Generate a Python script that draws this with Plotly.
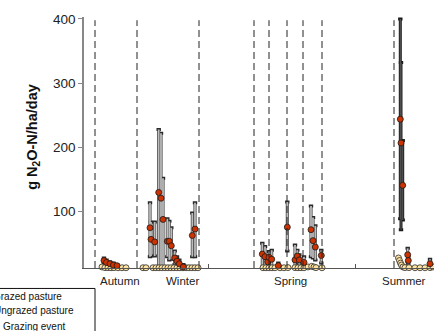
import plotly.graph_objects as go

# x positions are days from the start of the plotted period
grazed_day = [20, 22.5, 26, 29.5, 33,
              66, 67, 70.7, 74.7, 77, 79, 83.3, 85.3, 87.3, 90.7, 93, 95.3, 99.3, 108.3, 111,
              178.3, 181, 183.7, 185, 187.7, 194.3, 203.3, 211, 213.3, 215.3, 220, 227, 229, 231.3, 237.3,
              316.3, 317, 318.7, 323.7, 324.3, 346]
grazed_val = [24, 21, 19, 17, 16,
              75, 57, 53, 130, 121, 88, 54, 54, 47, 28, 23, 19, 14, 63, 73,
              34, 30, 22, 29, 26, 16, 76, 25, 31, 25, 21, 72, 55, 45, 32,
              244, 207, 141, 33, 24, 19]
grazed_hi = [28, 25, 22, 20, 18,
             114, 84, 84, 228, 222, 152, 89, 85, 75, 39, 30, 25, 18, 98, 114,
             51, 46, 30, 38, 40, 20, 115, 48, 40, 33, 30, 109, 91, 78, 40,
             400, 332, 211, 43, 30, 26]
grazed_lo = [20, 17, 16, 14, 14,
             30, 31, 31, 14, 14, 14, 30, 25, 26, 18, 16, 14, 13, 30, 30,
             13, 14, 15, 20, 15, 13, 39, 14, 20, 17, 14, 30, 28, 25, 20,
             89, 72, 87, 22, 18, 14]

ungrazed_day = [18, 21, 24, 27, 30, 34, 38, 42,
                59, 62, 69, 72, 75, 78, 81, 84, 87, 90, 93, 96, 99, 102, 105, 108, 111, 114,
                179, 182, 185, 188, 191, 196, 200, 204, 211, 214, 217, 220, 224, 227.7, 230, 232, 238,
                314.5, 315.5, 316.5, 317.5, 319, 321, 325, 331, 336, 341, 346, 349]
ungrazed_val = [14, 13, 13, 12.8, 13, 12.8, 12.8, 12.8,
                12.8, 12.8, 12.8, 12.8, 12.8, 12.8, 12.8, 12.8, 12.8, 12.8, 12.8, 12.8, 12.8, 12.8, 12.8, 12.8, 12.8, 12.8,
                12.8, 12.8, 12.8, 12.8, 12.8, 12.8, 12.8, 13, 13, 12.8, 12.8, 12.8, 14, 15, 14, 13, 12.8,
                28, 24, 20, 17, 14, 13, 13, 12.8, 12.8, 12.8, 13, 14]

grazing_event_day = [11, 53, 115, 170, 185, 203, 219, 238, 310]
minor_tick_day = [124, 271]

season_labels = ["Autumn", "Winter", "Spring", "Summer"]
season_label_day = [36, 98, 206, 320]

y_ticks = [100, 200, 300, 400]
Y_MIN, Y_MAX = 12.4, 403

fig = go.Figure()

dark = [i for i, d in enumerate(grazed_day) if grazed_val[i] > 130 and d > 300]
light = [i for i in range(len(grazed_day)) if i not in dark]

def add_err(idx, outer, inner, t_out, t_in):
    xs = [grazed_day[i] for i in idx]
    ys = [grazed_val[i] for i in idx]
    up = [grazed_hi[i] - grazed_val[i] for i in idx]
    dn = [grazed_val[i] - grazed_lo[i] for i in idx]
    fig.add_trace(go.Scatter(x=xs, y=ys, mode="markers", marker=dict(opacity=0, size=2),
                             error_y=dict(type="data", symmetric=False, array=up, arrayminus=dn,
                                          color=outer, thickness=t_out, width=2.2),
                             showlegend=False, hoverinfo="skip", cliponaxis=False))
    fig.add_trace(go.Scatter(x=xs, y=ys, mode="markers", marker=dict(opacity=0, size=2),
                             error_y=dict(type="data", symmetric=False, array=up, arrayminus=dn,
                                          color=inner, thickness=t_in, width=0),
                             showlegend=False, hoverinfo="skip", cliponaxis=False))

add_err(light, "#2a2a2a", "#bdbdbd", 3, 1.8)
add_err(dark, "#1a1a1a", "#505050", 3, 1.3)

fig.add_trace(go.Scatter(x=ungrazed_day, y=ungrazed_val, mode="markers", name="Ungrazed pasture",
                         marker=dict(color="#FFE3A3", size=6, line=dict(color="#2a2a2a", width=0.8)),
                         showlegend=False, cliponaxis=False))
fig.add_trace(go.Scatter(x=grazed_day, y=grazed_val, mode="markers", name="Grazed pasture",
                         marker=dict(color="#CC3300", size=6, line=dict(color="#1a1a1a", width=0.8)),
                         showlegend=False, cliponaxis=False))

for d in grazing_event_day:
    fig.add_shape(type="line", x0=d, x1=d, y0=Y_MIN, y1=398, xref="x", yref="y",
                  line=dict(color="#222222", width=1, dash="7px,4px"))

for lab, d in zip(season_labels, season_label_day):
    fig.add_annotation(x=d, y=-0.05, xref="x", yref="paper", text=lab, showarrow=False,
                       font=dict(family="Arial, Liberation Sans", size=11.5, color="#222222"),
                       yanchor="middle")

# legend (partly outside the picture, as in the reference)
W, H = 350.0, 251.5
def px(xp):
    return (xp - 84) / W
def py(yp):
    return (268.5 - yp) / H

fig.add_shape(type="rect", xref="paper", yref="paper", x0=px(-200), x1=px(95), y0=py(289), y1=py(345),
              line=dict(color="#111111", width=1))
for txt, xs, ys in [("Grazed pasture", -9.5, 297), ("Ungrazed pasture", -8, 311), ("Grazing event", 1, 327)]:
    fig.add_annotation(x=px(xs), y=py(ys), xref="paper", yref="paper", text=txt, showarrow=False,
                       xanchor="left", yanchor="middle",
                       font=dict(family="Arial, Liberation Sans", size=10, color="#111111"))

fig.add_annotation(x=px(22), y=py(137), xref="paper", yref="paper",
                   text="<b>g N<sub>2</sub>O-N/ha/day</b>", textangle=-90, showarrow=False,
                   font=dict(family="Arial, Liberation Sans", size=14.5, color="#111111"))

fig.update_layout(
    width=434, height=331,
    margin=dict(l=84, r=0, t=17, b=62.5),
    paper_bgcolor="white", plot_bgcolor="white",
    font=dict(family="Arial, Liberation Sans", color="#222222"),
    showlegend=False,
    xaxis=dict(range=[0, 350], showgrid=False, zeroline=False, showline=True,
               linecolor="#555555", linewidth=1.2, tickvals=minor_tick_day, ticks="inside",
               ticklen=4, tickcolor="#555555", showticklabels=False, fixedrange=True),
    yaxis=dict(range=[Y_MIN, Y_MAX], showgrid=False, zeroline=False, showline=True,
               linecolor="#888888", linewidth=1.5, tickvals=y_ticks, ticks="outside",
               ticklen=4, tickcolor="#888888", tickfont=dict(size=13.5, color="#222222"),
               fixedrange=True),
)

fig.write_html("out.html", config={"displayModeBar": False},
               post_script="document.body.style.margin='0px';")
